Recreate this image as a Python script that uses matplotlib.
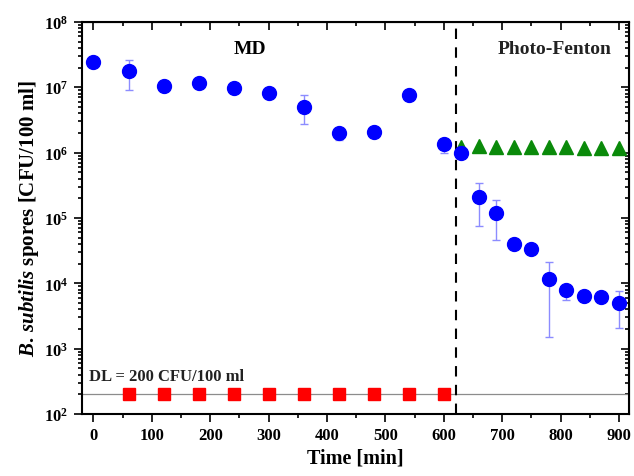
import matplotlib

matplotlib.use("Agg")
import matplotlib.pyplot as plt
from matplotlib.ticker import FixedLocator, LogLocator, NullFormatter, MultipleLocator

plt.rcParams["font.family"] = ["Liberation Serif", "DejaVu Serif"]
plt.rcParams["font.weight"] = "bold"
plt.rcParams["mathtext.fontset"] = "custom"
plt.rcParams["mathtext.rm"] = "Liberation Serif:bold"
plt.rcParams["mathtext.bf"] = "Liberation Serif:bold"
plt.rcParams["mathtext.it"] = "Liberation Serif:italic:bold"

# --- data ---
# MD + photo-Fenton, B. subtilis spores
t_spores = [0, 60, 120, 180, 240, 300, 360, 420, 480, 540, 600,
            630, 660, 690, 720, 750, 780, 810, 840, 870, 900]
spores = [2.4e7, 1.75e7, 1.05e7, 1.15e7, 9.7e6, 8.2e6, 5.0e6, 2.0e6, 2.05e6, 7.6e6, 1.35e6,
          1.0e6, 2.1e5, 1.2e5, 4.0e4, 3.3e4, 1.15e4, 7.9e3, 6.5e3, 6.2e3, 5.0e3]
err_low = [0, 8.5e6, 0, 0, 0, 0, 2.3e6, 4.5e5, 0, 0, 3.7e5,
           0, 1.35e5, 7.4e4, 0, 0, 1.0e4, 2.3e3, 0, 0, 2.9e3]
err_high = [0, 9.0e6, 0, 0, 0, 0, 2.5e6, 4.0e5, 0, 0, 2.0e5,
            0, 1.3e5, 7.0e4, 0, 0, 9.5e3, 1.0e3, 0, 0, 2.6e3]

# dark control during photo-Fenton
t_ctrl = [630, 660, 690, 720, 750, 780, 810, 840, 870, 900]
ctrl = [1.2e6, 1.25e6, 1.22e6, 1.2e6, 1.2e6, 1.2e6, 1.2e6, 1.18e6, 1.18e6, 1.17e6]

# permeate (below detection limit)
t_perm = [60, 120, 180, 240, 300, 360, 420, 480, 540, 600]
perm = [200] * 10

DL = 200
t_switch = 620

y_ticks = [1e2, 1e3, 1e4, 1e5, 1e6, 1e7, 1e8]
y_tick_labels = [r"$\mathbf{10^{%d}}$" % e for e in range(2, 9)]

fig = plt.figure(figsize=(6.34, 4.77), dpi=100)
ax = fig.add_axes([0.129, 0.130, 0.863, 0.822])

ax.axhline(DL, color="0.55", lw=0.9, zorder=1)
ax.axvline(t_switch, color="black", lw=1.5, ls=(0, (5, 4)), zorder=2)

ax.errorbar(t_spores, spores, yerr=[err_low, err_high], fmt="o", color="#0000ff",
            ecolor="#8c8cff", elinewidth=1.0, capsize=3, capthick=1.0,
            markersize=10, zorder=4)
ax.plot(t_ctrl, ctrl, "^", color="#0a8a0a", markersize=10, zorder=3)
ax.plot(t_perm, perm, "s", color="#ff0000", markersize=8, zorder=3)

ax.set_yscale("log")
ax.set_ylim(1e2, 1e8)
ax.set_xlim(-20, 917)

ax.yaxis.set_major_locator(FixedLocator(y_ticks))
ax.set_yticklabels(y_tick_labels)
ax.yaxis.set_minor_locator(LogLocator(base=10, subs=range(2, 10), numticks=20))
ax.yaxis.set_minor_formatter(NullFormatter())
ax.xaxis.set_major_locator(MultipleLocator(100))
ax.xaxis.set_minor_locator(MultipleLocator(50))

ax.tick_params(which="both", direction="out", labelsize=12, width=1.2)
ax.tick_params(which="major", length=6)
ax.tick_params(which="minor", length=3)
for s in ax.spines.values():
    s.set_linewidth(1.5)

# mirrored ticks (inward) on top and right
top = ax.secondary_xaxis("top")
top.xaxis.set_major_locator(MultipleLocator(100))
top.xaxis.set_minor_locator(MultipleLocator(50))
top.tick_params(which="both", direction="in", labeltop=False, width=1.2)
top.tick_params(which="major", length=6)
top.tick_params(which="minor", length=3)
right = ax.secondary_yaxis("right")
right.yaxis.set_major_locator(FixedLocator(y_ticks))
right.yaxis.set_minor_locator(LogLocator(base=10, subs=range(2, 10), numticks=20))
right.tick_params(which="both", direction="in", labelright=False, width=1.2)
right.tick_params(which="major", length=6)
right.tick_params(which="minor", length=3)
right.yaxis.set_minor_formatter(NullFormatter())

ax.set_xlabel("Time [min]", fontsize=14.5, fontweight="bold", labelpad=3)
ax.set_ylabel(r"$\mathit{B.\,subtilis}$ spores [CFU/100 ml]", fontsize=15,
              fontweight="bold", labelpad=2)

ax.text(268, 3.9e7, "MD", fontsize=14, fontweight="bold", ha="center", va="center")
ax.text(790, 3.9e7, "Photo-Fenton", fontsize=14, fontweight="bold", ha="center",
        va="center", color="#222222")
ax.text(-8, 285, "DL = 200 CFU/100 ml", fontsize=12, fontweight="bold",
        ha="left", va="bottom", color="#222222")

fig.savefig("out.png", dpi=100)
